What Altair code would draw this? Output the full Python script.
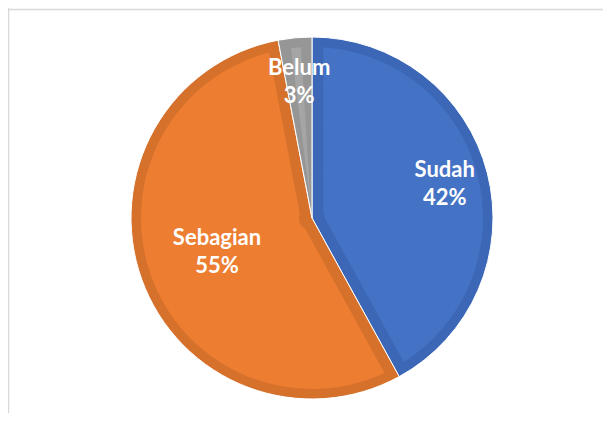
import altair as alt
import pandas as pd

kategori = ["Sudah", "Sebagian", "Belum"]
persen = [42, 55, 3]
urut = [1, 2, 3]
warna = ["#4472C4", "#ED7D31", "#A5A5A5"]
warna_gelap = ["#3B67B6", "#D6712C", "#969696"]

df = pd.DataFrame({"kategori": kategori, "persen": persen, "urut": urut})
df["label"] = df["kategori"] + "\n" + df["persen"].astype(str) + "%"

W, H = 595, 405
CX, CY = 304, 210

base = alt.Chart(df).encode(
    theta=alt.Theta("persen:Q", stack=True),
    order=alt.Order("urut:Q"),
)

outer = base.mark_arc(outerRadius=181, stroke="white", strokeWidth=1).encode(
    color=alt.Color("kategori:N", scale=alt.Scale(domain=kategori, range=warna_gelap), legend=None),
    x=alt.value(CX), y=alt.value(CY),
)

inner = base.mark_arc(outerRadius=171, innerRadius=13, padAngle=0.13).encode(
    color=alt.Color("kategori:N", scale=alt.Scale(domain=kategori, range=warna), legend=None),
    x=alt.value(CX), y=alt.value(CY),
)

gaya_teks = dict(font="Lato", fontSize=22, fontWeight="bold", color="white",
                 lineBreak="\n", lineHeight=28, baseline="middle", align="center", dy=-14)

teks_luar = base.mark_text(radius=137, **gaya_teks).encode(
    text="label:N", x=alt.value(CX), y=alt.value(CY),
    opacity=alt.condition(alt.datum.kategori != "Sebagian", alt.value(1), alt.value(0)),
)

teks_dalam = base.mark_text(radius=101, **gaya_teks).encode(
    text="label:N", x=alt.value(CX), y=alt.value(CY),
    opacity=alt.condition(alt.datum.kategori == "Sebagian", alt.value(1), alt.value(0)),
)

bingkai_df = pd.DataFrame({"a": [0]})
garis_atas = alt.Chart(bingkai_df).mark_rule(color="#d9d9d9", strokeWidth=1.5).encode(
    x=alt.value(0), x2=alt.value(W), y=alt.value(1.5)
)
garis_kiri = alt.Chart(bingkai_df).mark_rule(color="#d9d9d9", strokeWidth=1.5).encode(
    x=alt.value(0.5), y=alt.value(0), y2=alt.value(H)
)

chart = alt.layer(outer, inner, teks_luar, teks_dalam, garis_atas, garis_kiri).resolve_scale(
    color="independent"
).properties(
    width=W, height=H, padding=0, autosize=alt.AutoSizeParams(type="none")
).configure_view(stroke=None)

chart.save("out.html", embed_options={"renderer": "svg", "actions": False})
